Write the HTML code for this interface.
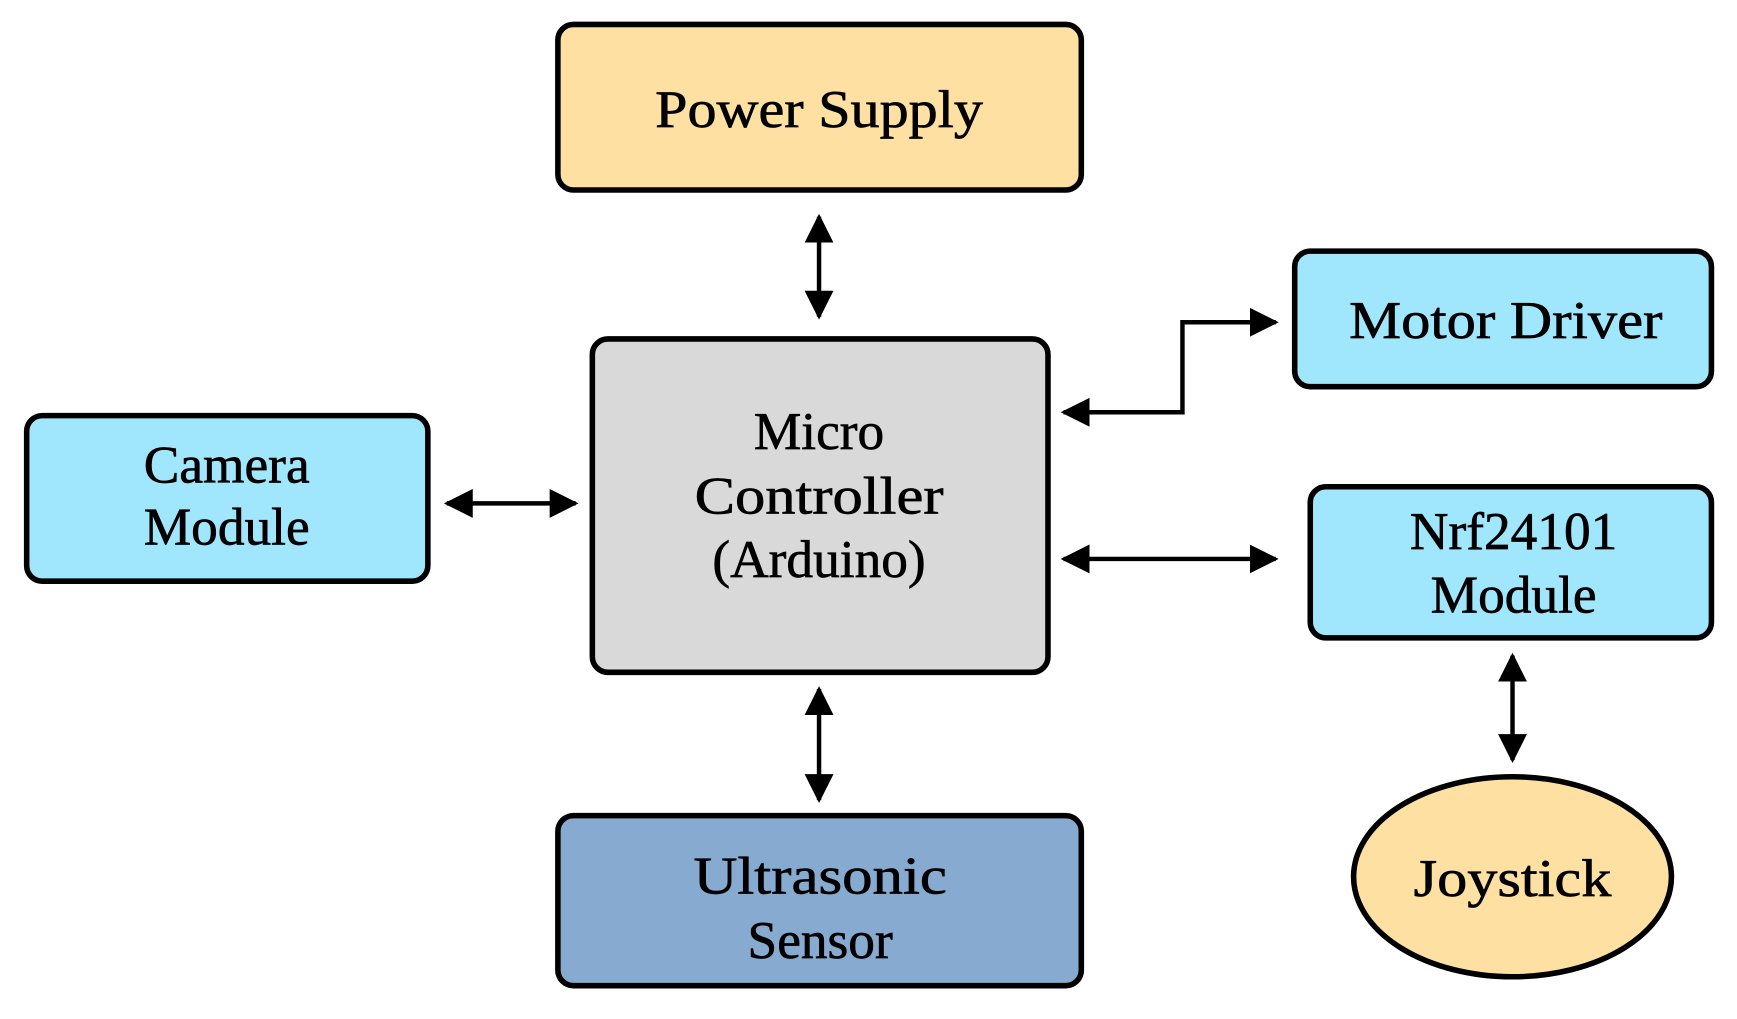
<!DOCTYPE html>
<html><head><meta charset="utf-8"><style>html,body{margin:0;padding:0;background:#fff}svg{display:block}</style></head>
<body>
<svg width="1737" height="1019" viewBox="0 0 1563 917" preserveAspectRatio="none" xmlns="http://www.w3.org/2000/svg">
<defs>
<marker id="a" viewBox="0 0 10 10" refX="9" refY="5" markerWidth="6.5" markerHeight="6.5" orient="auto-start-reverse" markerUnits="strokeWidth">
<path d="M0,0 L10,5 L0,10 z" fill="#000"/></marker>
</defs>
<g stroke="#000" stroke-width="5">
<rect x="502" y="22" width="471" height="149" rx="14" fill="#fde0a2"/>
<rect x="533" y="305" width="410" height="300" rx="14" fill="#d9d9d9"/>
<rect x="24" y="374" width="361" height="149" rx="14" fill="#a0e7fd"/>
<rect x="1165" y="226" width="375" height="122" rx="14" fill="#a0e7fd"/>
<rect x="1179" y="438" width="361" height="136" rx="14" fill="#a0e7fd"/>
<rect x="502" y="734" width="471" height="153" rx="14" fill="#87abd0"/>
<ellipse cx="1361" cy="789" rx="143" ry="90" fill="#fde0a2"/>
</g>
<g stroke="#000" stroke-width="4" fill="none">
<line x1="737" y1="195" x2="737" y2="285" marker-start="url(#a)" marker-end="url(#a)"/>
<line x1="737" y1="620" x2="737" y2="720" marker-start="url(#a)" marker-end="url(#a)"/>
<line x1="402" y1="453" x2="518" y2="453" marker-start="url(#a)" marker-end="url(#a)"/>
<line x1="957" y1="503" x2="1148" y2="503" marker-start="url(#a)" marker-end="url(#a)"/>
<polyline points="957,371 1064,371 1064,290 1148,290" marker-start="url(#a)" marker-end="url(#a)"/>
<line x1="1361" y1="590" x2="1361" y2="684" marker-start="url(#a)" marker-end="url(#a)"/>
</g>
<g font-family="'Liberation Serif', serif" font-size="48" text-anchor="middle" dominant-baseline="central" fill="#000" stroke="#000" stroke-width="0.6">
<text x="737" y="98" textLength="295" lengthAdjust="spacingAndGlyphs">Power Supply</text>
<text x="737" y="388">Micro</text>
<text x="737" y="446" textLength="224" lengthAdjust="spacingAndGlyphs">Controller</text>
<text x="737" y="503">(Arduino)</text>
<text x="204" y="418">Camera</text>
<text x="204" y="474">Module</text>
<text x="1355" y="288" textLength="282" lengthAdjust="spacingAndGlyphs">Motor Driver</text>
<text x="1362" y="478">Nrf24101</text>
<text x="1362" y="535">Module</text>
<text x="738" y="788" textLength="228" lengthAdjust="spacingAndGlyphs">Ultrasonic</text>
<text x="738" y="846">Sensor</text>
<text x="1361" y="790" textLength="178" lengthAdjust="spacingAndGlyphs">Joystick</text>
</g>
</svg>
</body></html>
